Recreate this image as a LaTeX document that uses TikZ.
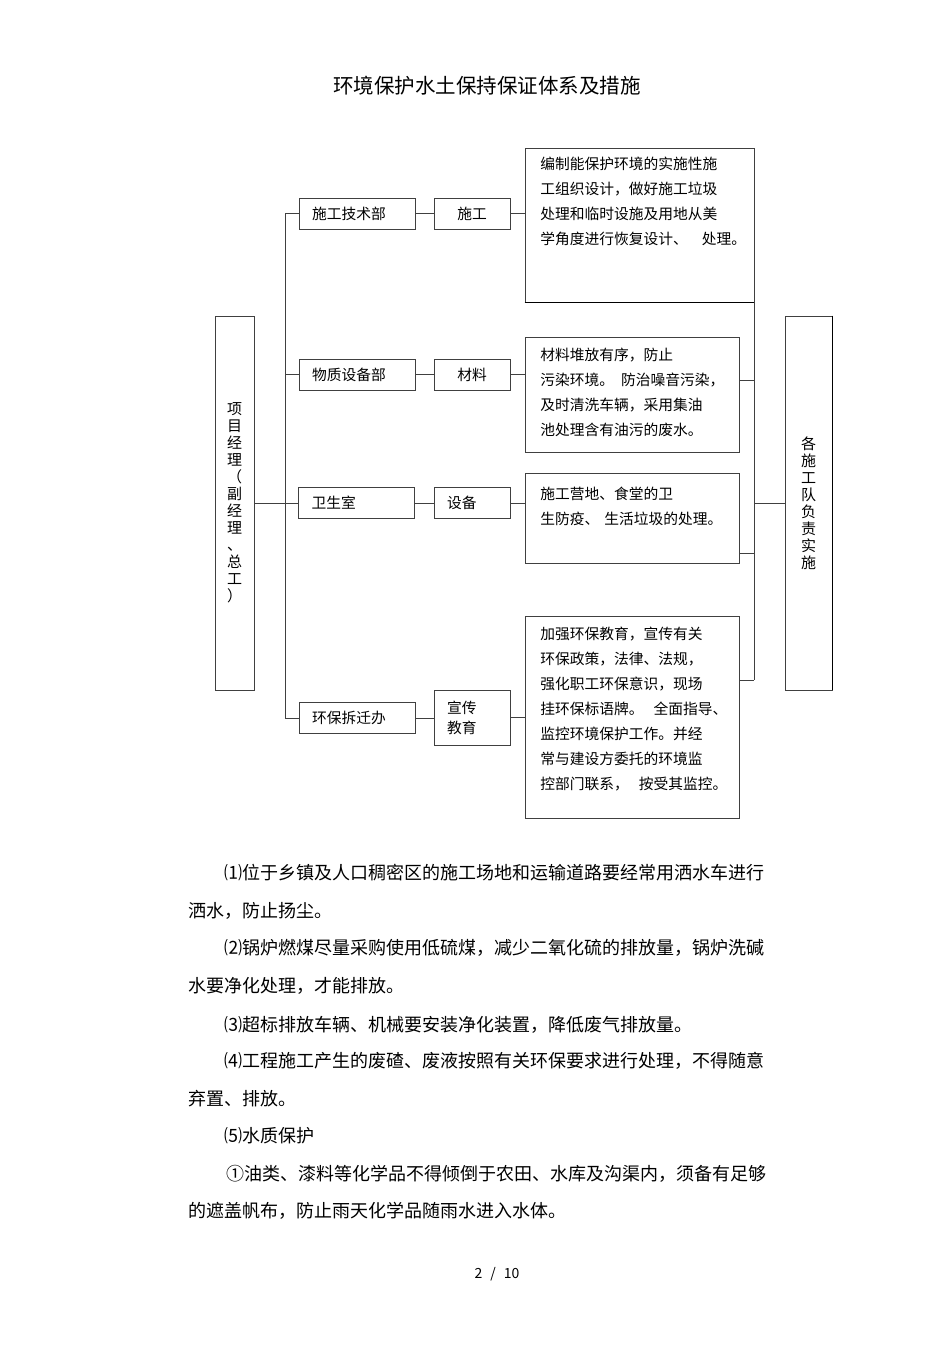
\documentclass[tikz,border=0pt]{standalone}
\usepackage{fontspec}
\setmainfont{Noto Sans CJK SC}

\begin{document}
\begin{tikzpicture}[x=1pt,y=-1pt,line width=0.9pt,every node/.style={inner sep=0pt},
  dept/.style={draw=black!75,minimum width=116,minimum height=31,text width=90,inner xsep=13,align=left,font=\fontsize{14.75}{17}\selectfont},
  task/.style={draw=black!75,minimum width=76,minimum height=31,text width=50,inner xsep=13,font=\fontsize{14.75}{20}\selectfont},
  note/.style={draw=black!75},
  note text/.style={anchor=north west,align=left,font=\fontsize{14.75}{25}\selectfont},
  side/.style={draw=black!75,minimum height=374,text width=15,align=center,font=\fontsize{15}{17}\selectfont},
  para/.style={anchor=west,text height=0.85em,text depth=0.15em,font=\fontsize{18}{18}\selectfont}]

  \fill[white] (0,0) rectangle (950,1345);
  \useasboundingbox (0,0) rectangle (950,1345);

  \node  (t0) at (487,86) {\fontsize{20.5}{22}\selectfont 环境保护水土保持保证体系及措施};

  \node[side,minimum width=39]  (1) at (234.5,503) {项\\目\\经\\理\\（\\副\\经\\理\\、\\总\\工\\）};
  \node[dept]  (2) at (357,213.5) {施工技术部};
  \node[task,align=center]  (3) at (472,213.5) {施工};
  \node[note,minimum width=229,minimum height=154]  (4) at (639.5,225) {};
  \node[dept]  (5) at (357,374.5) {物质设备部};
  \node[task,align=center]  (6) at (472,374.5) {材料};
  \node[note,minimum width=214,minimum height=115]  (7) at (632,394.5) {};
  \node[dept]  (8) at (356.5,503) {卫生室};
  \node[task,align=left]  (9) at (472,503) {设备};
  \node[note,minimum width=214,minimum height=90]  (10) at (632,518) {};
  \node[dept]  (11) at (357,718) {环保拆迁办};
  \node[task,align=left,minimum height=55]  (12) at (472,717.5) {宣传\\教育};
  \node[note,minimum width=214,minimum height=202]  (13) at (632,717) {};
  \node[side,minimum width=47]  (14) at (808.5,503) {各\\施\\工\\队\\负\\责\\实\\施};

  \node[note text]  (4t) at (540,157) {编制能保护环境的实施性施\\工组织设计，做好施工垃圾\\处理和临时设施及用地从美\\学角度进行恢复设计、\hspace{14pt}处理。};
  \node[note text]  (7t) at (540,348) {材料堆放有序，防止\\污染环境。\hspace{7pt}防治噪音污染，\\及时清洗车辆，采用集油\\池处理含有油污的废水。};
  \node[note text]  (10t) at (540,487) {施工营地、食堂的卫\\生防疫、\hspace{5pt}生活垃圾的处理。};
  \node[note text]  (13t) at (540,627) {加强环保教育，宣传有关\\环保政策，法律、法规，\\强化职工环保意识，现场\\挂环保标语牌。\hspace{10pt}全面指导、\\监控环境保护工作。并经\\常与建设方委托的环境监\\控部门联系，\hspace{10pt}按受其监控。};

  \coordinate  (lb) at (285,0);
  \coordinate  (rb) at (754,0);
  \coordinate  (rtop) at (754,198);
  \coordinate  (rbot) at (754,680);

  \draw[black!75] (2.west) -- (2.west -| lb) -- (11.west -| lb) -- (11.west);
  \draw[black!75] (5.west) -- (5.west -| lb);
  \draw[black!75] (1.east |- 8.west) -- (8.west);
  \draw[black!75] (2) -- (3);
  \draw[black!75] (5) -- (6);
  \draw[black!75] (8) -- (9);
  \draw[black!75] (11) -- (11 -| 12.west);
  \draw[black!75] (3.east) -- (3.east -| 4.west);
  \draw[black!75] (6.east) -- (6.east -| 7.west);
  \draw[black!75] (9.east) -- (9.east -| 10.west);
  \draw[black!75] (12.east) -- (12.east -| 13.west);

  \draw[black!75] (rtop) -- (rbot);
  \draw[black!75] ([yshift=14pt]7.east) -- ([yshift=14pt]7.east -| rb);
  \draw[black!75] ([yshift=-35pt]10.east) -- ([yshift=-35pt]10.east -| rb);
  \draw[black!75] ([yshift=37pt]13.east) -- ([yshift=37pt]13.east -| rb);
  \draw[black!75] (rb |- 14.west) -- (14.west);
  \draw[line width=1.6pt] (14.north east) -- (14.south east);
  \draw[line width=1.4pt] (4.south west) -- (4.south east);

  \node[para]  (p1) at (224,876) {⑴位于乡镇及人口稠密区的施工场地和运输道路要经常用洒水车进行};
  \node[para]  (p2) at (188,914) {洒水，防止扬尘。};
  \node[para]  (p3) at (224,951) {⑵锅炉燃煤尽量采购使用低硫煤，减少二氧化硫的排放量，锅炉洗碱};
  \node[para]  (p4) at (188,989) {水要净化处理，才能排放。};
  \node[para]  (p5) at (224,1028) {⑶超标排放车辆、机械要安装净化装置，降低废气排放量。};
  \node[para]  (p6) at (224,1064) {⑷工程施工产生的废碴、废液按照有关环保要求进行处理，不得随意};
  \node[para]  (p7) at (188,1102) {弃置、排放。};
  \node[para]  (p8) at (224,1139) {⑸水质保护};
  \node[para]  (p9) at (226,1177) {①油类、漆料等化学品不得倾倒于农田、水库及沟渠内，须备有足够};
  \node[para]  (p10) at (188,1214) {的遮盖帆布，防止雨天化学品随雨水进入水体。};

  \node  (pg) at (497,1274) {\fontsize{14}{16}\selectfont 2\hspace{8pt}/\hspace{8pt}10};

\end{tikzpicture}
\end{document}
